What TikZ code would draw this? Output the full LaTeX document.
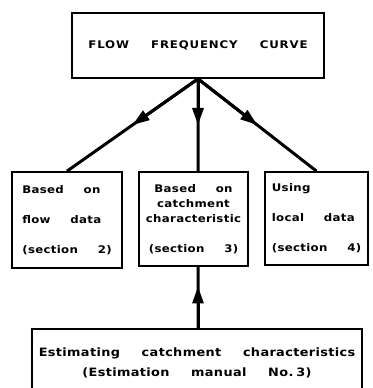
\documentclass[tikz,border=0pt]{standalone}
\usepackage{fontspec}
\newfontfamily\chartfont{DejaVu Sans}[FakeStretch=1.12,LetterSpace=3,WordSpace=4.5]
\usetikzlibrary{arrows.meta, calc}

\tikzset{
  box/.style={draw, line width=1.7pt, inner sep=0pt, font=\chartfont\bfseries\fontsize{10.5}{15}\selectfont},
  flowline/.style={line width=3pt},
  headline/.style={line width=3pt, -{Triangle[length=17pt,width=11pt]}}
}

\begin{document}
\begin{tikzpicture}[x=1pt, y=1pt]
      \useasboundingbox (0, 0) rectangle (372, 388);
      \clip (0, 0) rectangle (372, 388);
      \node[box, minimum width=252, minimum height=65,
            font=\chartfont\bfseries\fontsize{10.5}{15}\selectfont\addfontfeatures{LetterSpace=8}] (curve) at (198, 342.5)
            {FLOW FREQUENCY CURVE};
      \node[box, minimum width=110, minimum height=96, align=left] (flow) at (67, 168)
            {Based on\\[15pt] flow data\\[15pt] (section 2)};
      \node[box, minimum width=109, minimum height=94, align=center] (catch) at (193.5, 169)
            {Based on\\ catchment\\ characteristic\\[15pt] (section 3)};
      \node[box, minimum width=103, minimum height=93, align=left] (local) at (316.5, 169.5)
            {Using\\[15pt] local data\\[15pt] (section 4)};
      \node[box, minimum width=330, minimum height=68, align=center,
            font=\chartfont\bfseries\fontsize{11.5}{20}\selectfont] (estim) at (197, 25)
            {Estimating catchment characteristics\\ (Estimation manual No.\kern3pt3)};
      % lines first, then the heads half way along
      \coordinate (top) at (curve.south);
      \coordinate (fork) at (top |- catch.north);
      \coordinate (foot) at (estim.north -| top);
      \draw[flowline] (top) -- (flow.north) (top) -- (fork) (top) -- (local.north)
            (foot) -- (top |- catch.south);
      \draw[headline] (top) -- ($(top)!0.5!(flow.north)$);
      \draw[headline] (top) -- ($(top)!0.5!(fork)$);
      \draw[headline] (top) -- ($(top)!0.5!(local.north)$);
      \draw[headline] (foot) -- ($(foot)!0.68!(top |- catch.south)$);
    \end{tikzpicture}
\end{document}
